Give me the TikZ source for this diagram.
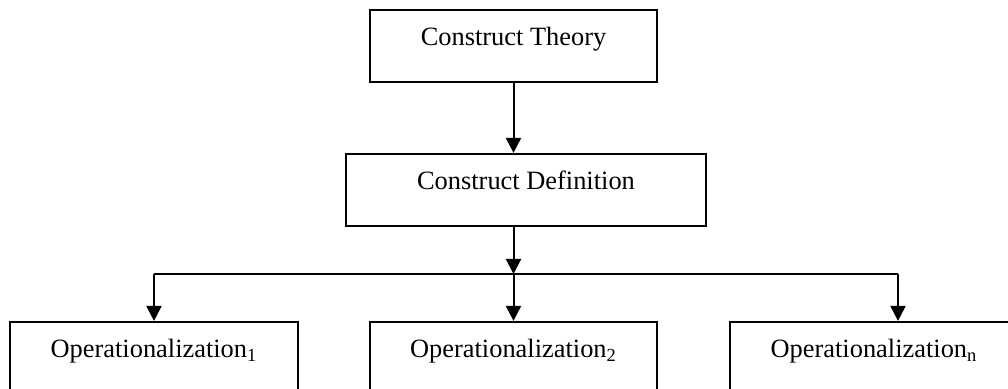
\documentclass[tikz,border=0pt]{standalone}
\usepackage{fontspec}
\setmainfont{Liberation Serif}
\usetikzlibrary{positioning, arrows.meta, calc}

\begin{document}
\begin{tikzpicture}[%
    font=\fontsize{13.2}{16}\selectfont,
    >={Triangle[width=7.5pt,length=7.5pt]},
    line width=1pt,
    % Boxes
    block/.style={draw, rectangle, line width=1.1pt, fill=white, minimum height=36pt, inner xsep=0pt, text height=9pt, text depth=9pt, align=center},
    link/.style={->, line width=1pt}
]

% --- Frame ---
\useasboundingbox (0pt,0pt) rectangle (504pt,-194.5pt);
\clip (0pt,0pt) rectangle (504pt,-194.5pt);

% --- 1. Construct levels (Top) ---
\node[block, minimum width=143.5pt] (theory) at (256.75pt,-23pt) {Construct Theory};
\node[block, minimum width=180pt] (defn) at (263pt,-95pt) {Construct Definition};

% --- 2. Operationalizations (Bottom) ---
\node[block, minimum width=144pt] (op1) at (77pt,-179pt) {Operationalization\textsubscript{1}};
\node[block, minimum width=143.5pt] (op2) at (256.75pt,-179pt) {Operationalization\textsubscript{2}};
\node[block, minimum width=144pt] (opn) at (437pt,-179pt) {Operationalization\textsubscript{n}};

% Branch points
\coordinate (split) at (theory.south |- 0,-137pt);
\coordinate (branch_r) at (449pt,-137pt);

% Connections
\draw[link] (theory.south) -- (theory.south |- defn.north);
\draw[link] (defn.south -| split) -- (split);
\draw (op1.north |- split) -- (branch_r);
\draw[link] (op1.north |- split) -- (op1.north);
\draw[link] (split) -- (split |- op2.north);
\draw[link] (branch_r) -- (branch_r |- opn.north);

\end{tikzpicture}
\end{document}
